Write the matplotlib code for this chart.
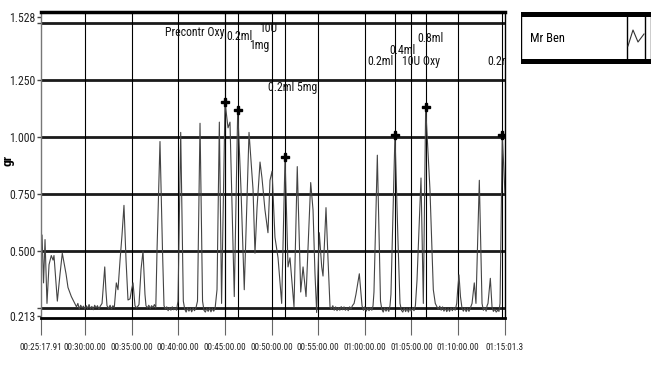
import matplotlib
matplotlib.use("Agg")
import matplotlib.pyplot as plt
from matplotlib.patches import Rectangle

plt.rcParams['font.family'] = ['Liberation Sans Narrow', 'DejaVu Sans Condensed',
                               'Roboto Condensed', 'DejaVu Sans']
plt.rcParams['font.stretch'] = 'condensed'

# Trace data: time in minutes, force reading
t_min = [
    25.30, 25.41, 25.57, 25.73, 25.94, 26.16, 26.40, 26.59, 26.69, 27.05,
    27.34, 27.58, 27.98, 28.19, 28.55, 28.91,
    29.10, 29.25, 29.40, 29.55, 29.70, 29.85, 30.00, 30.15, 30.30, 30.45,
    30.60, 30.75, 30.90, 31.05, 31.20, 31.35, 31.50, 31.65,
    31.84, 32.00, 32.13, 32.25, 32.37,
    32.55, 32.70, 32.85, 33.00, 33.15,
    33.37, 33.55, 33.77, 33.98, 34.19, 34.41, 34.62, 34.84, 35.00, 35.16,
    35.37, 35.55, 35.80, 36.02, 36.23, 36.44, 36.55,
    36.70, 36.85, 37.00, 37.15, 37.30, 37.45, 37.60,
    37.73, 38.05, 38.32, 38.48,
    38.62, 38.77, 38.92, 39.07, 39.22, 39.37, 39.52, 39.67, 39.82,
    39.98, 40.27, 40.55,
    40.70, 40.85, 41.00, 41.15, 41.30, 41.45, 41.60, 41.75, 41.90,
    42.07, 42.34, 42.61,
    42.76, 42.91, 43.06, 43.21, 43.36, 43.51, 43.66, 43.81, 43.96,
    44.16, 44.41, 44.65, 45.02, 45.34, 45.55, 46.01, 46.38, 46.73, 47.08,
    47.59, 48.02, 48.23, 48.45, 48.77, 48.98, 49.30, 49.62, 49.84, 50.06,
    50.37, 50.70, 51.09, 51.45, 51.77, 51.98, 52.41, 52.76, 53.13, 53.38,
    53.70, 54.20, 54.45, 54.66, 54.84, 55.12, 55.38, 55.52, 55.84, 56.06,
    56.27,
    56.42, 56.57, 56.72, 56.87, 57.02, 57.17, 57.32, 57.47, 57.62, 57.77,
    57.92, 58.07, 58.22, 58.37, 58.52, 58.67, 58.85,
    59.05, 59.25, 59.41, 59.55, 59.70,
    59.85, 60.00, 60.15, 60.30, 60.45, 60.60, 60.75, 60.88,
    60.98, 61.34, 61.68,
    61.82, 61.97, 62.12, 62.27, 62.42, 62.57, 62.70,
    62.80, 63.23, 63.55, 63.77,
    63.92, 64.07, 64.22, 64.37, 64.52, 64.67, 64.82, 64.97, 65.12, 65.27,
    65.42,
    65.59, 66.02, 66.27, 66.52, 66.98, 67.34, 67.55, 67.73,
    67.88, 68.03, 68.18, 68.33, 68.48, 68.63, 68.78, 68.93, 69.08, 69.23,
    69.38, 69.53, 69.68, 69.85,
    69.95, 70.09, 70.25, 70.41,
    70.56, 70.71, 70.86, 71.01, 71.16, 71.31,
    71.49, 71.73, 71.91, 72.27, 72.56,
    72.70, 72.85, 73.00, 73.10,
    73.20, 73.45, 73.63,
    73.78, 73.93, 74.08, 74.23, 74.38, 74.49,
    74.73, 75.02,
]
force = [
    0.50, 0.57, 0.36, 0.55, 0.27, 0.44, 0.48, 0.46, 0.48, 0.28,
    0.40, 0.49, 0.40, 0.34, 0.30, 0.27,
    0.255, 0.27, 0.245, 0.262, 0.25, 0.258, 0.243, 0.26, 0.248, 0.265,
    0.245, 0.257, 0.242, 0.262, 0.25, 0.26, 0.244, 0.258,
    0.27, 0.36, 0.43, 0.33, 0.26,
    0.248, 0.262, 0.245, 0.26, 0.25,
    0.36, 0.33, 0.46, 0.57, 0.70, 0.46, 0.285, 0.29, 0.33, 0.36,
    0.26, 0.25, 0.265, 0.42, 0.50, 0.31, 0.26,
    0.25, 0.262, 0.248, 0.26, 0.252, 0.265, 0.25,
    0.50, 0.98, 0.50, 0.26,
    0.245, 0.255, 0.238, 0.252, 0.24, 0.255, 0.242, 0.25, 0.24,
    0.28, 1.02, 0.28,
    0.245, 0.232, 0.25, 0.236, 0.248, 0.233, 0.25, 0.238, 0.25,
    0.28, 1.06, 0.28,
    0.24, 0.232, 0.248, 0.235, 0.25, 0.233, 0.247, 0.236, 0.25,
    0.33, 1.065, 0.27, 1.153, 1.04, 1.065, 0.30, 1.12, 0.77, 0.33,
    1.02, 0.77, 0.49, 0.69, 0.89, 0.82, 0.68, 0.58, 0.81, 0.85,
    0.56, 0.47, 0.27, 0.91, 0.43, 0.47, 0.255, 0.87, 0.32, 0.43,
    0.30, 0.80, 0.68, 0.40, 0.23, 0.58, 0.43, 0.39, 0.69, 0.46,
    0.255,
    0.245, 0.26, 0.24, 0.255, 0.238, 0.252, 0.24, 0.256, 0.242, 0.255,
    0.24, 0.25, 0.238, 0.255, 0.245, 0.26, 0.27,
    0.31, 0.36, 0.40, 0.33, 0.26,
    0.24, 0.255, 0.236, 0.25, 0.238, 0.252, 0.24, 0.26,
    0.32, 0.92, 0.28,
    0.245, 0.232, 0.25, 0.236, 0.248, 0.235, 0.26,
    0.31, 1.01, 0.55, 0.27,
    0.24, 0.232, 0.25, 0.234, 0.248, 0.232, 0.25, 0.236, 0.25, 0.238,
    0.26,
    0.37, 0.82, 0.27, 1.13, 0.77, 0.33, 0.27, 0.255,
    0.245, 0.258, 0.24, 0.255, 0.236, 0.25, 0.234, 0.248, 0.235, 0.25,
    0.238, 0.252, 0.24, 0.27,
    0.33, 0.395, 0.30, 0.25,
    0.236, 0.25, 0.234, 0.248, 0.235, 0.25,
    0.27, 0.36, 0.27, 0.81, 0.27,
    0.24, 0.252, 0.236, 0.26,
    0.27, 0.38, 0.255,
    0.235, 0.245, 0.232, 0.24, 0.235, 0.27,
    1.01, 0.75,
]

# Cursor markers (drug additions)
cursor_t = [45.02, 46.38, 51.45, 63.23, 66.52, 74.73]
cursor_v = [1.153, 1.12, 0.91, 1.01, 1.13, 1.01]

# Annotation labels: text, time, height, alignment
note_text = ["Precontr Oxy", "0.2ml", "1mg", "10U", "0.2ml 5mg",
             "0.2ml", "0.4ml", "10U Oxy", "0.8ml", "0.2ml"]
note_t = [44.95, 45.15, 47.60, 48.65, 49.62,
          60.23, 62.60, 64.00, 65.59, 73.09]
note_v = [1.46, 1.44, 1.40, 1.475, 1.215,
          1.329, 1.38, 1.329, 1.43, 1.329]
note_ha = ["right", "left", "left", "left", "left",
           "left", "left", "left", "left", "left"]

start_t = 25.2985
end_t = 75.0217
xtick_t = [start_t, 30, 35, 40, 45, 50, 55, 60, 65, 70, end_t]
xtick_labels = ["00:25:17.91", "00:30:00.00", "00:35:00.00", "00:40:00.00",
                "00:45:00.00", "00:50:00.00", "00:55:00.00", "01:00:00.00",
                "01:05:00.00", "01:10:00.00", "01:15:01.3"]
ytick_v = [0.213, 0.5, 0.75, 1.0, 1.25, 1.528]
ytick_labels = ["0.213", "0.500", "0.750", "1.000", "1.250", "1.528"]
hgrid_v = [0.25, 0.5, 0.75, 1.0, 1.25, 1.5]

fig = plt.figure(figsize=(6.51, 3.67), dpi=100)
ax = fig.add_axes([41 / 651, 49 / 367, 464 / 651, 306 / 367])

for v in hgrid_v:
    ax.axhline(v, color='#1a1a1a', lw=2.0, zorder=1)
for t in xtick_t[1:-1]:
    ax.axvline(t, color='black', lw=0.8, zorder=1)
for t in cursor_t:
    ax.axvline(t, color='black', lw=0.8, zorder=1)

ax.plot(t_min, force, color='#444444', lw=0.8, zorder=2)
ax.plot(cursor_t, cursor_v, linestyle='none', marker='P', markersize=6,
        color='black', zorder=3)

for txt, t, v, ha in zip(note_text, note_t, note_v, note_ha):
    ax.text(t, v, txt, fontsize=8.5, ha=ha, va='center', color='#111',
            clip_on=True, zorder=4)

ax.set_xlim(start_t, end_t)
ax.set_ylim(0.206, 1.548)

ax.set_xticks(xtick_t)
ax.set_xticklabels(xtick_labels, fontsize=6.6, color='#222')
ax.tick_params(axis='x', direction='out', length=12, width=0.8,
               color='#666', pad=6)
ax.set_yticks(ytick_v)
ax.set_yticklabels(ytick_labels, fontsize=8.5, color='#222')
ax.set_yticks([0.25, 1.5], minor=True)
ax.tick_params(axis='y', which='both', direction='out', length=3, width=1,
               color='#444', pad=1)

ax.spines['top'].set_linewidth(2.5)
ax.spines['bottom'].set_linewidth(2.0)
ax.spines['left'].set_color('#777')
ax.spines['left'].set_linewidth(1.0)
ax.spines['right'].set_linewidth(1.0)

fig.text(8 / 651, 1 - 160 / 367, 'gr', rotation=90, fontsize=9.5,
         fontweight='bold', ha='center', va='center')

# Legend panel
lax = fig.add_axes([521 / 651, 1 - 64 / 367, 130 / 651, 52 / 367])
lax.set_xlim(0, 130)
lax.set_ylim(0, 52)
lax.axis('off')
lax.add_patch(Rectangle((0, 0), 130, 52, facecolor='white',
                        edgecolor='black', lw=1))
lax.add_patch(Rectangle((0, 47), 130, 5, facecolor='black', lw=0))
lax.add_patch(Rectangle((0, 0), 130, 5, facecolor='black', lw=0))
lax.plot([106, 106], [0, 52], color='black', lw=1)
lax.plot([124, 124], [0, 52], color='black', lw=1)
lax.plot([107, 112, 117, 123], [18, 34, 22, 30], color='#333', lw=0.8)
lax.text(9, 26, 'Mr Ben', fontsize=9, ha='left', va='center')

fig.savefig('out.png', dpi=100)
